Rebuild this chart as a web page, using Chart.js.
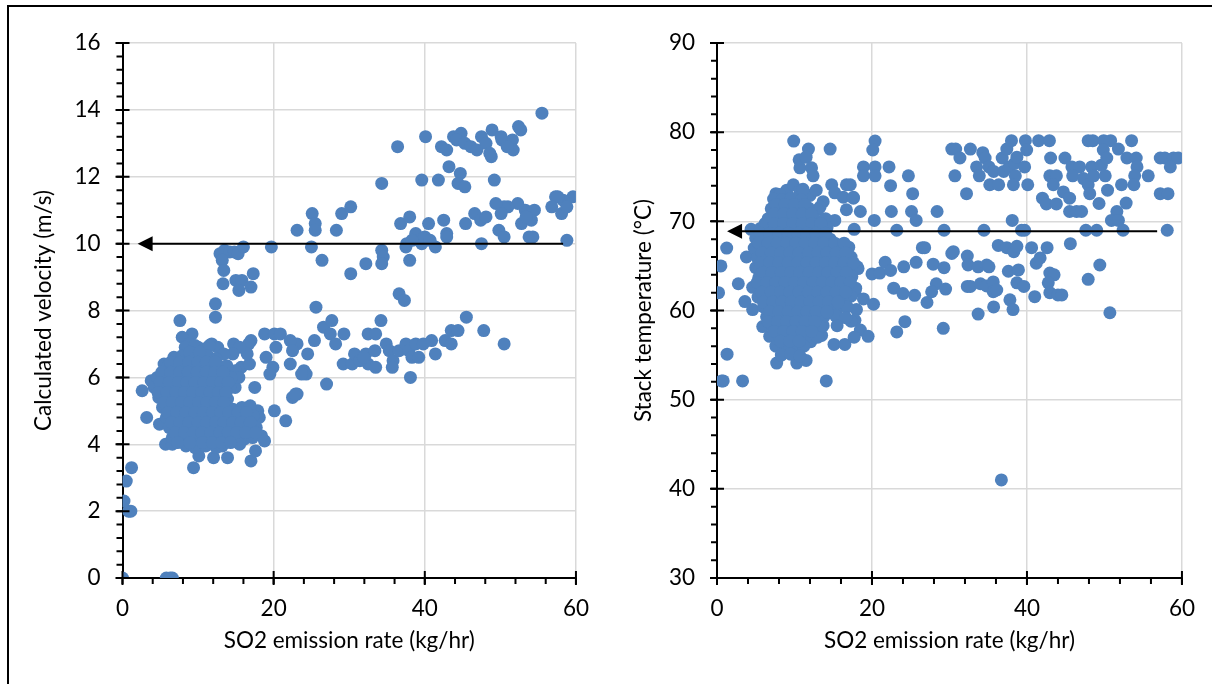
<!DOCTYPE html>
<html>
<head>
<meta charset="utf-8">
<script src="https://cdn.jsdelivr.net/npm/chart.js@4.4.1/dist/chart.umd.min.js"></script>
<style>
  html, body { margin: 0; padding: 0; background: #fff; }
  #frame { position: absolute; left: 7px; top: 5px; width: 1220px; height: 700px;
           border-top: 2px solid #000; border-left: 2px solid #000; }
  .box { position: absolute; top: 0; width: 606px; height: 684px; }
</style>
</head>
<body>
<div id="frame"></div>
<div class="box" style="left:0"><canvas id="velocityChart" width="606" height="684"></canvas></div>
<div class="box" style="left:606px"><canvas id="tempChart" width="606" height="684"></canvas></div>

<script>
// ---- left chart: SO2 emission rate (kg/hr) vs calculated velocity (m/s) ----
const velocityUpper = [
  [55.5,13.9],[52.4,13.5],[52.7,13.4],[50.2,13.1],[51.6,13.1],[51.7,12.8],[50.9,12.9],[36.4,12.9],
  [40.1,13.2],[42.2,12.9],[42.9,12.8],[43.8,13.2],[44.8,13.3],[44.2,13.1],[45.3,13.0],[46.1,12.9],
  [46.9,12.8],[47.5,13.2],[48.1,13.0],[48.9,13.4],[50.1,13.2],[48.8,12.6],[48.6,12.7],[34.3,11.8],
  [39.6,11.9],[41.8,11.9],[43.2,12.3],[44.7,12.1],[44.4,11.8],[45.3,11.7],[49.2,11.9],[59.6,11.4],
  [57.3,11.4],[58.3,11.3],[57.6,11.4]
];
const velocityMiddle = [
  [56.8,11.1],[58.1,10.9],[58.8,11.1],[58.8,10.1],[54.5,11.0],[53.3,11.0],[52.3,11.2],[51.0,11.1],
  [52.8,10.6],[54.1,10.7],[53.4,10.8],[53.8,10.2],[54.3,10.2],[50.5,11.1],[23.1,10.4],[25.1,10.9],
  [25.5,10.6],[25.5,10.4],[25.0,9.9],[26.4,9.5],[28.3,10.4],[29.0,10.9],[30.2,11.1],[30.2,9.1],
  [32.2,9.4],[34.3,9.8],[34.5,9.6],[34.3,9.4],[36.8,10.6],[38.0,10.8],[37.5,9.9],[38.0,9.5],
  [38.8,10.3],[39.2,10.1],[39.6,10.0],[40.5,10.6],[41.4,9.9],[42.5,10.7],[42.9,10.3],[42.9,10.2],
  [45.4,10.6],[46.6,10.9],[47.4,10.7],[48.1,10.8],[47.5,10.0],[49.4,11.2],[50.1,10.9],[49.8,10.4],
  [50.5,10.2],[37.6,10.0],[38.3,10.1],[40.0,10.2],[40.7,10.1],[36.6,8.5],[37.3,8.3],[25.6,8.1],
  [19.7,9.9],[12.9,9.7],[13.5,9.8],[14.2,9.75],[14.8,9.75],[15.3,9.7],[13.2,9.5],[16.0,9.9],
  [13.4,9.2],[13.3,8.8],[15.0,8.9],[15.8,8.9],[15.4,8.6],[17.0,8.7],[17.3,9.1],[12.3,8.2],[12.3,7.8]
];
const velocityLower = [
  [7.6,7.7],[45.5,7.8],[47.8,7.4],[50.5,7.0],[26.6,7.5],[27.7,7.7],[27.5,7.3],[29.3,7.3],[28.2,7.0],
  [25.4,7.1],[24.5,6.7],[23.1,7.0],[24.0,6.2],[24.3,6.1],[27.0,5.8],[23.1,5.5],[29.2,6.4],[30.4,6.4],
  [30.7,6.7],[32.2,6.7],[32.5,6.4],[33.5,6.3],[33.4,6.8],[34.9,7.0],[35.3,6.8],[35.8,6.5],[35.7,6.3],
  [36.6,6.8],[37.5,7.0],[37.9,6.8],[38.3,6.6],[39.2,6.6],[38.8,7.0],[39.8,7.0],[40.9,7.1],[41.4,6.7],
  [42.7,7.1],[43.5,7.4],[44.4,7.4],[43.5,7.0],[38.1,6.0],[32.5,7.3],[33.5,7.3],[34.2,7.7],[31.4,6.5],
  [31.9,6.6],[9.2,7.3],[7.9,7.2],[11.8,7.0],[14.7,7.0],[17.0,7.1],[18.8,7.3],[20.1,7.3],[20.9,7.3],
  [22.2,7.1],[22.5,6.8],[20.3,6.9],[19.0,6.6],[19.9,6.3],[19.5,6.1],[22.2,6.4],[23.7,6.1],[17.5,5.7],
  [15.7,6.3],[16.8,6.4],[14.9,5.7],[16.7,7.0],[16.5,6.7],[14.9,6.2],[15.4,6.0],[15.5,6.9],[14.6,6.7],
  [12.6,6.9],[13.4,6.7],[8.8,7.0],[10.0,6.9],[22.5,5.4],[22.9,5.5],[21.6,4.7],[20.1,5.0]
];
const velocityLow = [
  [1.2,3.3],[0.5,2.9],[0.2,2.3],[0.8,2.0],[1.1,2.0],[0,0],[5.8,0],[6.3,0],[6.6,0],
  [2.6,5.6],[3.8,5.9],[3.2,4.8],[4.9,4.6],[5.5,6.4],[6.2,6.4],[5.7,4.0],[6.6,4.0],[9.4,3.3],
  [10.1,3.65],[12.05,3.6],[13.9,3.6],[17.0,3.5],[17.6,3.8],[18.8,4.1],[17.9,5.0],[18.1,4.8],[17.7,4.5]
];
const velocityCluster = [
  [8.3,6.9],[9.6,6.95],[10.8,6.85],[11.5,6.95],
  [6.8,6.6],[7.9,6.65],[9.0,6.55],[10.2,6.6],[11.3,6.65],[12.4,6.55],
  [5.9,6.3],[7.1,6.35],[8.2,6.25],[9.5,6.3],[10.6,6.35],[11.8,6.25],[12.9,6.3],[13.8,6.35],
  [4.6,6.0],[5.7,6.05],[6.9,5.95],[8.0,6.0],[9.2,6.05],[10.3,5.95],[11.5,6.0],[12.6,6.05],[13.6,5.95],[14.4,6.0],
  [4.2,5.7],[5.3,5.75],[6.5,5.65],[7.6,5.7],[8.8,5.75],[9.9,5.65],[11.1,5.7],[12.2,5.75],[13.3,5.65],[14.2,5.7],
  [4.8,5.4],[5.9,5.45],[7.0,5.35],[8.2,5.4],[9.4,5.45],[10.5,5.35],[11.7,5.4],[12.8,5.45],[13.9,5.35],
  [5.3,5.1],[6.5,5.15],[7.7,5.05],[8.9,5.1],[10.0,5.15],[11.2,5.05],[12.4,5.1],[13.5,5.15],[14.6,5.05],[15.8,5.1],[16.9,5.15],
  [5.8,4.8],[7.0,4.85],[8.1,4.75],[9.3,4.8],[10.4,4.85],[11.6,4.75],[12.7,4.8],[13.8,4.85],[15.0,4.75],[16.2,4.8],[17.3,4.85],
  [6.2,4.5],[7.4,4.55],[8.6,4.45],[9.8,4.5],[10.9,4.55],[12.1,4.45],[13.2,4.5],[14.4,4.55],[15.6,4.45],[16.8,4.5],
  [6.6,4.2],[7.8,4.25],[9.0,4.15],[10.2,4.2],[11.4,4.25],[12.6,4.15],[13.7,4.2],[14.9,4.25],[16.1,4.15],[17.2,4.2],[18.4,4.25],
  [8.4,3.95],[9.6,3.9],[11.0,3.95],[12.4,3.9],[13.2,3.95],[15.5,4.0]
];
const velocityClusterFill = [
  [8.9,6.75],[10.2,6.75],
  [6.4,6.45],[7.6,6.45],[8.8,6.45],[10.0,6.45],[11.1,6.45],[12.3,6.45],
  [5.2,6.15],[6.4,6.15],[7.6,6.15],[8.7,6.15],[9.9,6.15],[11.1,6.15],[12.2,6.15],[13.3,6.15],
  [5.0,5.85],[6.2,5.85],[7.4,5.85],[8.5,5.85],[9.6,5.85],[10.8,5.85],[11.9,5.85],[13.0,5.85],[14.0,5.85],
  [4.7,5.55],[5.9,5.55],[7.1,5.55],[8.2,5.55],[9.3,5.55],[10.5,5.55],[11.6,5.55],[12.7,5.55],[13.7,5.55],
  [5.5,5.25],[6.6,5.25],[7.8,5.25],[8.9,5.25],[10.1,5.25],[11.2,5.25],[12.3,5.25],[13.4,5.25],
  [6.0,4.95],[7.2,4.95],[8.4,4.95],[9.6,4.95],[10.7,4.95],[11.9,4.95],[13.0,4.95],[14.1,4.95],[15.3,4.95],[16.4,4.95],
  [6.5,4.65],[7.6,4.65],[8.8,4.65],[10.0,4.65],[11.1,4.65],[12.3,4.65],[13.4,4.65],[14.6,4.65],[15.7,4.65],[16.9,4.65],
  [7.0,4.35],[8.2,4.35],[9.4,4.35],[10.5,4.35],[11.7,4.35],[12.9,4.35],[14.0,4.35],[15.1,4.35],[16.3,4.35],[17.6,4.35],
  [7.3,4.05],[8.9,4.05],[10.6,4.05],[11.9,4.05],[13.1,4.05],[14.3,4.05]
];
const velocityArrow = { y: 10, from: 58.3, to: 2.0 };

// ---- right chart: SO2 emission rate (kg/hr) vs stack temperature (°C) ----
const tempUpper = [
  [9.9,79.0],[11.8,78.1],[14.6,78.1],[10.6,76.9],[10.7,76.0],[11.5,77.2],[12.2,76.0],[12.4,75.1],
  [14.8,74.1],[16.7,74.1],[15.2,73.2],[16.3,72.7],[17.6,72.7],[7.6,73.1],[9.0,73.5],[9.85,74.1],
  [10.7,73.5],[12.0,72.9],[12.8,73.5],[13.7,72.2],[13.3,71.6],[16.7,71.3],[15.2,70.1],[17.7,69.1],
  [8.1,73.0],[11.1,73.6],[4.4,69.1],[6.2,69.2],
  [20.4,79.0],[20.1,78.0],[18.9,76.1],[20.4,76.1],[18.9,75.1],[20.4,75.1],[22.2,76.1],[22.4,74.0],
  [24.7,75.1],[25.25,73.1],[17.2,74.1],[17.6,72.6],[18.5,71.1],[20.3,70.1],[22.5,71.1],[23.2,69.0],
  [25.1,71.1],[25.7,70.1],[28.4,71.1],[29.3,69.0],
  [30.3,78.1],[30.8,78.1],[31.35,77.1],[30.7,75.1],[32.2,73.1],[32.7,78.1],[33.5,76.1],[33.85,75.1],
  [34.3,77.7],[34.6,77.1],[35.1,76.1],[35.7,75.6],[35.2,74.1],[36.35,74.1],[36.8,77.1],[37.4,78.1],
  [38.0,79.05],[37.0,75.6],[37.7,76.1],[38.4,76.5],[38.7,77.2],[39.7,76.1],[38.5,75.1],[38.25,74.1],
  [40.1,74.1],[39.8,79.05],[39.96,78.0],[39.3,69.0],[39.7,69.0],[38.1,70.1],[34.45,69.0],
  [41.5,79.05],[42.9,79.05],[43.05,77.1],[44.9,77.1],[42.0,72.6],[42.5,71.95],[43.8,71.95],[42.95,75.1],
  [43.8,75.1],[43.4,74.1],[44.7,73.3],[45.5,72.6],[45.5,71.1],[46.4,71.1],[47.05,71.1],[45.8,76.1],
  [46.8,76.1],[45.9,75.1],[47.3,74.8],[47.9,74.1],[48.35,76.1],[48.6,75.1],[49.6,76.3],[50.1,75.1],
  [47.9,79.05],[48.5,79.05],[49.9,79.05],[50.8,79.05],[49.85,78.0],[50.3,77.1],[48.1,73.1],[49.3,72.0],
  [50.4,73.5],[51.8,78.1],[53.5,79.05],[52.9,77.1],[54.1,77.1],[54.2,76.1],[53.9,75.1],[55.65,75.1],
  [52.2,74.1],[53.8,74.1],[52.8,72.05],[51.6,71.1],[50.9,70.1],[51.8,70.1],[52.4,69.0],[47.6,69.0],
  [49.0,69.0],[58.1,69.0],[57.2,77.1],[57.8,77.1],[58.9,77.1],[59.5,77.1],[58.5,76.1],[57.2,73.1],[58.2,73.1]
];
const tempMiddle = [
  [17.2,64.9],[18.1,64.9],[17.2,63.0],[17.8,62.1],[18.0,60.1],[17.8,58.9],[18.9,61.3],[20.2,60.7],
  [18.5,57.8],[19.5,57.1],[20.0,64.1],[21.0,64.2],[21.7,65.4],[22.4,64.5],[22.8,62.5],[24.1,64.9],
  [25.7,65.4],[26.5,67.05],[26.8,67.05],[27.9,65.2],[29.3,64.8],[30.3,66.4],[30.5,66.6],[24.0,61.9],
  [25.5,61.7],[27.1,60.9],[24.25,58.75],[23.2,57.6],[28.3,63.0],[27.7,62.1],[29.5,62.4],[29.2,58.0],
  [32.3,66.1],[32.4,65.1],[33.7,64.9],[34.8,65.1],[35.1,64.9],[32.3,62.7],[32.7,62.7],[34.0,63.0],
  [34.8,62.75],[35.65,63.2],[35.65,62.1],[36.1,62.3],[35.7,60.4],[33.7,59.6],[36.3,67.3],[37.4,67.05],
  [38.3,66.6],[38.7,67.2],[37.6,64.4],[38.9,64.55],[38.7,63.1],[39.6,62.7],[37.8,61.2],[38.2,60.1],
  [40.6,67.05],[41.2,65.3],[41.7,65.9],[42.95,64.2],[43.5,64.0],[42.75,63.1],[42.95,62.0],[44.0,61.75],
  [44.5,61.75],[41.0,61.55],[47.9,63.5],[49.4,65.1],[50.7,59.75],[45.6,67.5],[42.6,67.05],[36.7,41.0]
];
const tempEdge = [
  [1.25,67.0],[0.5,65.0],[0.2,62.0],[2.75,63.0],[3.8,66.0],[3.6,61.0],[4.6,60.1],[1.3,55.1],
  [7.7,54.1],[10.3,54.1],[11.5,54.4],[0.6,52.1],[0.8,52.1],[3.3,52.1],[14.1,52.1],[15.1,56.2],
  [16.5,56.2],[17.7,57.0],[17.3,58.8],[12.1,56.5],[13.5,57.2],[13.7,58.3]
];
const tempCluster = [
  [7.3,72.5],[8.4,72.4],[9.6,72.6],[10.9,72.4],
  [7.0,71.4],[8.2,71.5],[9.4,71.3],[10.6,71.4],[11.8,71.5],[13.0,71.3],
  [6.6,70.3],[7.8,70.4],[9.0,70.2],[10.2,70.3],[11.4,70.4],[12.6,70.2],[14.0,70.3],
  [5.6,69.2],[6.8,69.3],[8.0,69.1],[9.2,69.2],[10.4,69.3],[11.6,69.1],[12.8,69.2],[14.2,69.3],
  [5.0,68.1],[6.2,68.2],[7.4,68.0],[8.6,68.1],[9.8,68.2],[11.0,68.0],[12.2,68.1],[13.4,68.2],[14.6,68.0],
  [4.8,67.0],[6.0,67.1],[7.2,66.9],[8.4,67.0],[9.6,67.1],[10.8,66.9],[12.0,67.0],[13.2,67.1],[14.5,66.9],[15.9,67.0],[17.0,67.1],
  [5.2,65.9],[6.4,66.0],[7.6,65.8],[8.8,65.9],[10.0,66.0],[11.2,65.8],[12.4,65.9],[13.6,66.0],[14.8,65.8],[16.0,65.9],[17.3,66.0],
  [5.0,64.8],[6.1,64.9],[7.3,64.7],[8.5,64.8],[9.7,64.9],[10.9,64.7],[12.1,64.8],[13.3,64.9],[14.5,64.7],[15.7,64.8],[16.9,64.9],[18.2,64.7],
  [5.4,63.7],[6.6,63.8],[7.8,63.6],[9.0,63.7],[10.2,63.8],[11.4,63.6],[12.6,63.7],[13.8,63.8],[15.0,63.6],[16.2,63.7],[17.4,63.8],
  [4.6,62.6],[5.9,62.7],[7.1,62.5],[8.3,62.6],[9.5,62.7],[10.7,62.5],[11.9,62.6],[13.1,62.7],[14.3,62.5],[15.5,62.6],[16.7,62.7],[17.9,62.5],
  [5.3,61.5],[6.5,61.6],[7.7,61.4],[8.9,61.5],[10.1,61.6],[11.3,61.4],[12.5,61.5],[13.7,61.6],[14.9,61.4],[16.1,61.5],[17.3,61.6],
  [6.0,60.4],[7.2,60.5],[8.4,60.3],[9.6,60.4],[10.8,60.5],[12.0,60.3],[13.2,60.4],[14.4,60.5],[15.6,60.3],[16.8,60.4],
  [6.4,59.3],[7.6,59.4],[8.8,59.2],[10.0,59.3],[11.2,59.4],[12.4,59.2],[13.8,59.3],[15.3,59.4],[16.6,59.2],
  [5.9,58.2],[7.1,58.3],[8.3,58.1],[9.5,58.2],[10.7,58.3],[11.9,58.1],[13.3,58.2],[15.5,58.3],
  [6.8,57.1],[8.0,57.2],[9.2,57.0],[10.4,57.1],[11.6,57.2],[13.0,57.0],
  [7.6,56.0],[8.8,56.1],[10.0,55.9],[11.2,56.0],
  [8.3,55.0],[9.5,55.1],[10.7,54.9]
];
const tempClusterFill = [
  [7.6,71.9],[8.8,71.9],[10.0,71.9],[11.3,71.9],
  [7.4,70.85],[8.6,70.85],[9.8,70.85],[11.0,70.85],[12.2,70.85],
  [6.2,69.75],[7.4,69.75],[8.6,69.75],[9.8,69.75],[11.0,69.75],[12.2,69.75],[13.4,69.75],
  [5.6,68.65],[6.8,68.65],[8.0,68.65],[9.2,68.65],[10.4,68.65],[11.6,68.65],[12.8,68.65],[14.0,68.65],
  [5.4,67.55],[6.6,67.55],[7.8,67.55],[9.0,67.55],[10.2,67.55],[11.4,67.55],[12.6,67.55],[13.8,67.55],[15.2,67.55],[16.4,67.55],
  [5.8,66.45],[7.0,66.45],[8.2,66.45],[9.4,66.45],[10.6,66.45],[11.8,66.45],[13.0,66.45],[14.2,66.45],[15.4,66.45],[16.6,66.45],
  [5.6,65.35],[6.8,65.35],[8.0,65.35],[9.2,65.35],[10.4,65.35],[11.6,65.35],[12.8,65.35],[14.0,65.35],[15.2,65.35],[16.4,65.35],[17.6,65.35],
  [5.9,64.25],[7.1,64.25],[8.3,64.25],[9.5,64.25],[10.7,64.25],[11.9,64.25],[13.1,64.25],[14.3,64.25],[15.5,64.25],[16.7,64.25],
  [5.2,63.15],[6.4,63.15],[7.6,63.15],[8.8,63.15],[10.0,63.15],[11.2,63.15],[12.4,63.15],[13.6,63.15],[14.8,63.15],[16.0,63.15],[17.2,63.15],
  [5.8,62.05],[7.0,62.05],[8.2,62.05],[9.4,62.05],[10.6,62.05],[11.8,62.05],[13.0,62.05],[14.2,62.05],[15.4,62.05],[16.6,62.05],
  [6.0,60.95],[7.2,60.95],[8.4,60.95],[9.6,60.95],[10.8,60.95],[12.0,60.95],[13.2,60.95],[14.4,60.95],[15.6,60.95],
  [6.8,59.85],[8.0,59.85],[9.2,59.85],[10.4,59.85],[11.6,59.85],[12.8,59.85],[14.2,59.85],
  [6.6,58.75],[7.8,58.75],[9.0,58.75],[10.2,58.75],[11.4,58.75],[12.6,58.75],
  [7.4,57.65],[8.6,57.65],[9.8,57.65],[11.0,57.65],[12.2,57.65],
  [8.2,56.55],[9.4,56.55],[10.6,56.55]
];
const tempArrow = { y: 68.9, from: 56.8, to: 1.3 };

const xTitle = 'SO2 emission rate (kg/hr)';
const pointColor = '#4f81bd';
const textFont = { family: 'Lato', size: 22.5 };

// draws the Excel-style tick marks and the annotation arrow
const axisMarks = {
  id: 'axisMarks',
  afterDatasetsDraw(chart, args, opts) {
    const { ctx, scales: { x, y } } = chart;
    const ax = x.getPixelForValue(x.min);
    const ay = y.getPixelForValue(y.min);
    ctx.save();
    ctx.strokeStyle = '#000';
    ctx.fillStyle = '#000';
    ctx.lineWidth = 2;

    // arrow
    const yy = y.getPixelForValue(opts.arrow.y);
    const x0 = x.getPixelForValue(opts.arrow.from);
    const x1 = x.getPixelForValue(opts.arrow.to);
    ctx.beginPath();
    ctx.moveTo(x0, yy);
    ctx.lineTo(x1 + 12, yy);
    ctx.stroke();
    ctx.beginPath();
    ctx.moveTo(x1, yy);
    ctx.lineTo(x1 + 15, yy - 7.5);
    ctx.lineTo(x1 + 15, yy + 7.5);
    ctx.closePath();
    ctx.fill();

    // minor ticks (outside only)
    ctx.beginPath();
    const nx = Math.round((x.max - x.min) / opts.xMinor);
    for (let i = 0; i <= nx; i++) {
      const px = x.getPixelForValue(x.min + i * opts.xMinor);
      ctx.moveTo(px, ay);
      ctx.lineTo(px, ay + 6);
    }
    const ny = Math.round((y.max - y.min) / opts.yMinor);
    for (let i = 0; i <= ny; i++) {
      const py = y.getPixelForValue(y.min + i * opts.yMinor);
      ctx.moveTo(ax - 6, py);
      ctx.lineTo(ax, py);
    }
    ctx.stroke();

    // major ticks (cross the axis)
    ctx.beginPath();
    x.ticks.forEach(t => {
      const px = x.getPixelForValue(t.value);
      ctx.moveTo(px, ay - 7);
      ctx.lineTo(px, ay + 7);
    });
    y.ticks.forEach(t => {
      const py = y.getPixelForValue(t.value);
      ctx.moveTo(ax - 7, py);
      ctx.lineTo(ax + 7, py);
    });
    ctx.stroke();
    ctx.restore();
  }
};

function makeScatter(id, points, yTitle, yMin, yMax, yStep, yMinor, arrow, pad, yWidth) {
  return new Chart(document.getElementById(id), {
    type: 'scatter',
    data: {
      datasets: [{
        data: points.map(p => ({ x: p[0], y: p[1] })),
        backgroundColor: pointColor,
        borderColor: pointColor,
        borderWidth: 0,
        pointRadius: 6.5,
        pointHoverRadius: 6.5
      }]
    },
    options: {
      responsive: false,
      animation: false,
      layout: { padding: pad },
      plugins: {
        legend: { display: false },
        tooltip: { enabled: false },
        axisMarks: { arrow: arrow, xMinor: 4, yMinor: yMinor }
      },
      scales: {
        x: {
          type: 'linear', min: 0, max: 60,
          grid: { color: '#d9d9d9', lineWidth: 1.5, drawTicks: false },
          border: { color: '#000', width: 2 },
          ticks: { stepSize: 20, padding: 17, color: '#000', font: textFont },
          title: { display: true, text: xTitle, color: '#000', font: textFont },
          afterFit(s) { s.height = 80; }
        },
        y: {
          type: 'linear', min: yMin, max: yMax,
          grid: { color: '#d9d9d9', lineWidth: 1.5, drawTicks: false },
          border: { color: '#000', width: 2 },
          ticks: { stepSize: yStep, padding: 22, color: '#000', font: textFont },
          title: { display: true, text: yTitle, color: '#000', font: textFont },
          afterFit(s) { s.width = yWidth; }
        }
      }
    },
    plugins: [axisMarks]
  });
}

const velocityPoints = [].concat(velocityUpper, velocityMiddle, velocityLower, velocityLow,
  velocityCluster, velocityClusterFill);
const tempPoints = [].concat(tempUpper, tempMiddle, tempEdge, tempCluster, tempClusterFill);

makeScatter('velocityChart', velocityPoints, 'Calculated velocity (m/s)', 0, 16, 2, 0.4,
  velocityArrow, { left: 26, top: 43, right: 23, bottom: 26 }, 96.5);
makeScatter('tempChart', tempPoints, 'Stack temperature (°C)', 30, 90, 10, 2,
  tempArrow, { left: 20, top: 43, right: 30, bottom: 26 }, 91);
</script>
</body>
</html>
